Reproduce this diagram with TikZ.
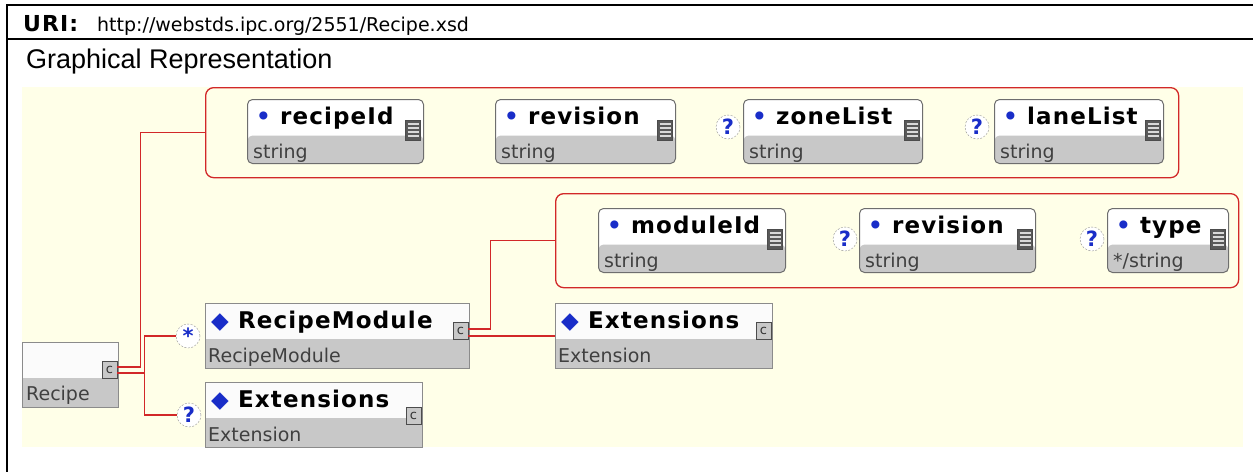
\documentclass[tikz,border=0pt]{standalone}
\usepackage{fontspec}
\setmainfont{DejaVu Sans}
\newfontfamily\ttlfont{DejaVu Sans}[LetterSpace=5]
\newfontfamily\arialfont{Liberation Sans}

\definecolor{bgyel}{RGB}{255,255,232}
\definecolor{grpred}{RGB}{210,40,40}
\definecolor{boxgray}{RGB}{200,200,200}
\definecolor{boxline}{RGB}{110,110,110}
\definecolor{xsblue}{RGB}{25,45,200}

\tikzset{
	frame/.style={line width=2},
	grp/.style={draw=grpred, line width=1.3, rounded corners=8, anchor=north west, inner sep=0},
	conn/.style={draw=grpred, line width=1.3},
	attbox/.style={draw=boxline, line width=1, rounded corners=5, fill=white, minimum height=64, inner sep=0, anchor=north west,
		path picture={\fill[boxgray] ([yshift=28]path picture bounding box.south west) rectangle (path picture bounding box.south east);}},
	elbox/.style={draw=boxline!80, line width=1, fill=white!97!gray, minimum height=65, inner sep=0, anchor=north west,
		path picture={\fill[boxgray] ([yshift=30]path picture bounding box.south west) rectangle (path picture bounding box.south east);}},
	ttl/.style={anchor=base west, inner sep=0, font=\ttlfont\bfseries\fontsize{23}{23}\selectfont},
	sub/.style={anchor=base west, inner sep=0, text=black!75, font=\fontsize{19}{19}\selectfont},
	simicon/.style={draw=black!70, fill=black!65, minimum width=15, minimum height=20, inner sep=0,
		path picture={
			\draw[black!15, line width=1.5] ([xshift=2,yshift=-4]path picture bounding box.north west) -- ([xshift=-2,yshift=-4]path picture bounding box.north east);
			\draw[black!15, line width=1.5] ([xshift=2,yshift=-8]path picture bounding box.north west) -- ([xshift=-2,yshift=-8]path picture bounding box.north east);
			\draw[black!15, line width=1.5] ([xshift=2,yshift=-12]path picture bounding box.north west) -- ([xshift=-2,yshift=-12]path picture bounding box.north east);
			\draw[black!15, line width=1.5] ([xshift=2,yshift=-16]path picture bounding box.north west) -- ([xshift=-2,yshift=-16]path picture bounding box.north east);
		}},
	cicon/.style={draw=black!70, fill=boxgray, line width=0.9, minimum width=15, minimum height=17, inner sep=0, text=black!80, font=\fontsize{13}{13}\selectfont},
	optc/.style={circle, draw=black!45, dash pattern=on 2 off 1.5, fill=white, minimum size=24, inner sep=0, text=xsblue, font=\bfseries\fontsize{21}{21}\selectfont}
}

\begin{document}
\begin{tikzpicture}[x=1pt,y=-1pt]
	\useasboundingbox (0,0) rectangle (1253,472);

	\draw[frame] (7,4) -- (7,472);
	\draw[frame] (6,5) -- (1253,5);
	\draw[frame] (6,39) -- (1253,39);

	\node[anchor=base west, inner sep=0, font=\ttlfont\bfseries\fontsize{22}{22}\selectfont] (uri) at (23,31) {URI:};
	\node[anchor=base west, inner sep=0, font=\fontsize{19}{19}\selectfont] (url) at (97,31) {http://webstds.ipc.org/2551/Recipe.xsd};
	\node[anchor=base west, inner sep=0, font=\arialfont\fontsize{27}{27}\selectfont] (grep) at (26,68) {Graphical Representation};

	\fill[bgyel] (22,87) rectangle (1243,447);

	\node[grp, minimum width=973, minimum height=90] (topgrp) at (205,87) {};
	\node[grp, minimum width=683, minimum height=94] (modgrp) at (555,193) {};

	\node[attbox, minimum width=176] (rid) at (247,99) {};
	\node[ttl] (rid-t) at ([xshift=9,yshift=-25]rid.north west) {\textcolor{xsblue}{•} recipeId};
	\node[sub] (rid-s) at ([xshift=6,yshift=-59]rid.north west) {string};
	\node[simicon] (rid-i) at ([xshift=-11,yshift=-31]rid.north east) {};

	\node[attbox, minimum width=180] (rev1) at (495,99) {};
	\node[ttl] (rev1-t) at ([xshift=9,yshift=-25]rev1.north west) {\textcolor{xsblue}{•} revision};
	\node[sub] (rev1-s) at ([xshift=6,yshift=-59]rev1.north west) {string};
	\node[simicon] (rev1-i) at ([xshift=-11,yshift=-31]rev1.north east) {};

	\node[optc] (zone-o) at (728,127) {?};
	\node[attbox, minimum width=179] (zone) at (743,99) {};
	\node[ttl] (zone-t) at ([xshift=9,yshift=-25]zone.north west) {\textcolor{xsblue}{•} zoneList};
	\node[sub] (zone-s) at ([xshift=6,yshift=-59]zone.north west) {string};
	\node[simicon] (zone-i) at ([xshift=-11,yshift=-31]zone.north east) {};

	\node[optc] (lane-o) at (977,127) {?};
	\node[attbox, minimum width=169] (lane) at (994,99) {};
	\node[ttl] (lane-t) at ([xshift=9,yshift=-25]lane.north west) {\textcolor{xsblue}{•} laneList};
	\node[sub] (lane-s) at ([xshift=6,yshift=-59]lane.north west) {string};
	\node[simicon] (lane-i) at ([xshift=-11,yshift=-31]lane.north east) {};

	\node[attbox, minimum width=187] (mid) at (598,208) {};
	\node[ttl] (mid-t) at ([xshift=9,yshift=-25]mid.north west) {\textcolor{xsblue}{•} moduleId};
	\node[sub] (mid-s) at ([xshift=6,yshift=-59]mid.north west) {string};
	\node[simicon] (mid-i) at ([xshift=-11,yshift=-31]mid.north east) {};

	\node[optc] (rev2-o) at (845,239) {?};
	\node[attbox, minimum width=176] (rev2) at (859,208) {};
	\node[ttl] (rev2-t) at ([xshift=9,yshift=-25]rev2.north west) {\textcolor{xsblue}{•} revision};
	\node[sub] (rev2-s) at ([xshift=6,yshift=-59]rev2.north west) {string};
	\node[simicon] (rev2-i) at ([xshift=-11,yshift=-31]rev2.north east) {};

	\node[optc] (type-o) at (1092,239) {?};
	\node[attbox, minimum width=121] (type) at (1107,208) {};
	\node[ttl] (type-t) at ([xshift=9,yshift=-25]type.north west) {\textcolor{xsblue}{•} type};
	\node[sub] (type-s) at ([xshift=6,yshift=-59]type.north west) {*/string};
	\node[simicon] (type-i) at ([xshift=-11,yshift=-31]type.north east) {};

	\node[elbox, minimum width=96] (rcp) at (22,342) {};
	\node[sub] (rcp-s) at ([xshift=4,yshift=-58]rcp.north west) {Recipe};
	\node[cicon] (rcp-i) at ([xshift=-9.5,yshift=-28]rcp.north east) {c};

	\node[optc] (mul1) at (188,336) {*};
	\node[elbox, minimum width=264] (rmod) at (205,303) {};
	\node[ttl] (rmod-t) at ([xshift=6,yshift=-25]rmod.north west) {\textcolor{xsblue}{◆} RecipeModule};
	\node[sub] (rmod-s) at ([xshift=3,yshift=-59]rmod.north west) {RecipeModule};
	\node[cicon] (rmod-i) at ([xshift=-9.5,yshift=-28]rmod.north east) {c};

	\node[optc] (opt1) at (189,415) {?};
	\node[elbox, minimum width=217] (ext1) at (205,382) {};
	\node[ttl] (ext1-t) at ([xshift=6,yshift=-25]ext1.north west) {\textcolor{xsblue}{◆} Extensions};
	\node[sub] (ext1-s) at ([xshift=3,yshift=-59]ext1.north west) {Extension};
	\node[cicon] (ext1-i) at ([xshift=-9.5,yshift=-34]ext1.north east) {c};

	\node[elbox, minimum width=217] (ext2) at (555,303) {};
	\node[ttl] (ext2-t) at ([xshift=6,yshift=-25]ext2.north west) {\textcolor{xsblue}{◆} Extensions};
	\node[sub] (ext2-s) at ([xshift=3,yshift=-59]ext2.north west) {Extension};
	\node[cicon] (ext2-i) at ([xshift=-9.5,yshift=-28]ext2.north east) {c};

	\draw[conn] ([yshift=3]rcp-i.east) -- ++(23,0) |- (topgrp.west);
	\draw[conn] ([yshift=-3]rcp-i.east) -- ++(27,0) |- (mul1.west);
	\draw[conn] ([yshift=-3]rcp-i.east) -- ++(27,0) |- (opt1.west);
	\draw[conn] ([yshift=2]rmod-i.east) -- ++(22,0) |- (modgrp.west);
	\draw[conn] (rmod-i.east |- ext2.west) -- (ext2.west);
\end{tikzpicture}
\end{document}
